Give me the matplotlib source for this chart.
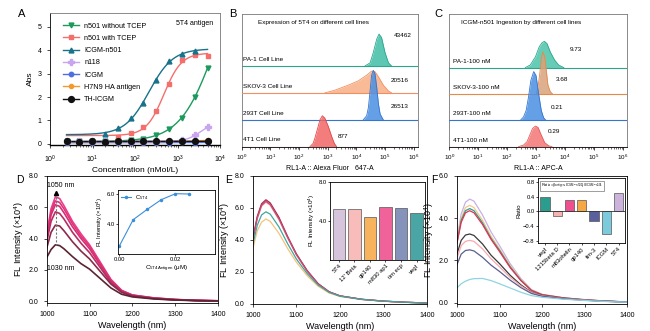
import numpy as np
import matplotlib
matplotlib.use('Agg')
import matplotlib.pyplot as plt
from matplotlib.lines import Line2D

plt.rcParams['font.family'] = ['Liberation Sans', 'DejaVu Sans']
plt.rcParams['axes.linewidth'] = 0.6
plt.rcParams['xtick.major.width'] = 0.5
plt.rcParams['ytick.major.width'] = 0.5
plt.rcParams['xtick.minor.width'] = 0.4
plt.rcParams['xtick.major.size'] = 2.5
plt.rcParams['ytick.major.size'] = 2.5
plt.rcParams['xtick.minor.size'] = 1.5
plt.rcParams['xtick.labelsize'] = 5
plt.rcParams['ytick.labelsize'] = 5
plt.rcParams['mathtext.default'] = 'regular'

# ---------------- A: ELISA binding ----------------
conc = [2.44, 4.88, 9.77, 19.5, 39.1, 78.1, 156, 313, 625, 1250, 2500, 5000]
abs_without_tcep = [0.1, 0.1, 0.1, 0.11, 0.12, 0.15, 0.22, 0.38, 0.65, 1.1, 2.0, 3.25]
abs_with_tcep = [0.3, 0.45, 0.72, 1.42, 2.55, 3.6, 3.82, 3.75]       # conc[4:]
abs_icgm_n501 = [0.42, 0.68, 1.1, 1.75, 2.75, 3.55, 3.85, 3.95]      # conc[3:11]
abs_n118 = [0.1, 0.1, 0.1, 0.1, 0.1, 0.1, 0.1, 0.12, 0.14, 0.15, 0.36, 0.7]
abs_icgm = [0.05, 0.05, 0.04, 0.05, 0.05, 0.04, 0.05, 0.05, 0.05, 0.06, 0.05, 0.06]
abs_h7n9 = [0.08, 0.09, 0.08, 0.09, 0.08, 0.09, 0.08, 0.09, 0.1, 0.1, 0.12, 0.15]
abs_th_icgm = [0.1, 0.09, 0.1, 0.09, 0.11, 0.13, 0.1, 0.1, 0.11, 0.1, 0.1, 0.1]

# ---------------- B / C: flow cytometry (log10 x, normalised height) ----------------
b_rows = ['4T1 Cell Line', '293T Cell Line', 'SKOV-3 Cell Line', 'PA-1 Cell Line']
b_values = ['877', '26513', '20516', '43462']
b_x = [[2.38, 2.49, 2.55, 2.65, 2.73, 2.81, 2.90, 3.02, 3.14, 3.23, 3.31],
       [4.24, 4.36, 4.42, 4.48, 4.53, 4.59, 4.65, 4.71, 4.77, 4.83, 4.94],
       [2.90, 3.25, 3.72, 4.07, 4.36, 4.53, 4.65, 4.77, 4.94, 5.12, 5.23],
       [4.30, 4.48, 4.59, 4.71, 4.79, 4.88, 5.00, 5.12, 5.23]]
b_h = [[0, 0.12, 0.31, 0.69, 1.0, 1.15, 1.06, 0.75, 0.37, 0.12, 0],
       [0, 0.15, 0.46, 1.09, 1.65, 1.84, 1.71, 1.21, 0.59, 0.21, 0],
       [0, 0.1, 0.29, 0.45, 0.66, 0.81, 0.79, 0.6, 0.29, 0.07, 0],
       [0, 0.12, 0.5, 1.0, 1.19, 1.06, 0.5, 0.12, 0]]

c_rows = ['4T1-100 nM', '293T-100 nM', 'SKOV-3-100 nM', 'PA-1-100 nM']
c_values = ['0.29', '0.21', '3.68', '9.73']
c_x = [[2.40, 2.57, 2.69, 2.80, 2.88, 2.98, 3.07, 3.18, 3.30, 3.44, 3.55],
       [2.46, 2.57, 2.66, 2.74, 2.82, 2.92, 3.00, 3.09, 3.18, 3.26, 3.34],
       [3.01, 3.07, 3.13, 3.18, 3.24, 3.30, 3.36, 3.41, 3.49, 3.57],
       [2.63, 2.80, 2.98, 3.11, 3.21, 3.29, 3.38, 3.49, 3.64, 3.78, 3.96]]
c_h = [[0, 0.06, 0.19, 0.48, 0.69, 0.78, 0.73, 0.44, 0.15, 0.03, 0],
       [0, 0.13, 0.38, 0.88, 1.51, 1.85, 1.7, 1.0, 0.38, 0.1, 0],
       [0, 0.28, 0.78, 1.35, 1.6, 1.41, 0.84, 0.34, 0.09, 0],
       [0, 0.1, 0.41, 0.79, 0.95, 1.0, 0.91, 0.6, 0.29, 0.1, 0]]

# ---------------- D / E / F: NIR-II spectra ----------------
wl = [1000, 1010, 1020, 1030, 1040, 1060, 1080, 1100, 1125, 1150, 1175, 1200, 1250, 1300, 1350, 1400]
d_spectra = [
    [4.3, 5.9, 6.65, 6.55, 6.1, 5.1, 4.3, 3.6, 2.5, 1.4, 0.7, 0.4, 0.22, 0.12, 0.06, 0.03],
    [4.2, 5.7, 6.4, 6.3, 5.9, 4.95, 4.15, 3.5, 2.4, 1.35, 0.68, 0.4, 0.21, 0.11, 0.06, 0.03],
    [4.0, 5.5, 6.15, 6.05, 5.65, 4.75, 4.0, 3.35, 2.3, 1.3, 0.66, 0.38, 0.2, 0.11, 0.05, 0.03],
    [3.8, 5.1, 5.7, 5.6, 5.25, 4.4, 3.7, 3.1, 2.15, 1.2, 0.62, 0.36, 0.19, 0.1, 0.05, 0.03],
    [3.4, 4.4, 4.85, 4.8, 4.5, 3.8, 3.2, 2.7, 1.9, 1.1, 0.57, 0.33, 0.17, 0.09, 0.05, 0.02],
    [2.8, 3.3, 3.6, 3.55, 3.35, 2.85, 2.4, 2.05, 1.45, 0.85, 0.45, 0.28, 0.15, 0.08, 0.04, 0.02]]
d_colors = ['#ea3f8a', '#e0327c', '#d42f72', '#b72d63', '#8a2b4a', '#5b2533']
d_inset_conc = [0.0, 0.005, 0.01, 0.015, 0.02, 0.025]
d_inset_int = [2.5, 4.3, 5.0, 5.65, 6.05, 6.03]

e_names = ['5T4', "12' Beta", 'gp140', 'm830 ap1', 'tim ecp', 'vegf']
e_bars = [5.25, 5.19, 4.44, 5.39, 5.29, 4.78]
e_colors = ['#d6c3dc', '#f8bcba', '#f7b35e', '#f0639a', '#8592ba', '#4aa5a5']
e_spectra = [
    [4.0, 5.4, 6.2, 6.45, 6.25, 5.35, 4.15, 3.1, 2.05, 1.25, 0.75, 0.5, 0.28, 0.17, 0.1, 0.05],
    [3.95, 5.3, 6.1, 6.35, 6.15, 5.25, 4.1, 3.05, 2.0, 1.22, 0.73, 0.49, 0.28, 0.17, 0.1, 0.05],
    [3.45, 4.55, 5.1, 5.3, 5.15, 4.4, 3.45, 2.6, 1.75, 1.1, 0.68, 0.46, 0.27, 0.16, 0.09, 0.05],
    [4.05, 5.45, 6.25, 6.5, 6.3, 5.4, 4.2, 3.12, 2.07, 1.26, 0.76, 0.5, 0.29, 0.17, 0.1, 0.05],
    [4.0, 5.35, 6.15, 6.4, 6.2, 5.3, 4.15, 3.08, 2.04, 1.24, 0.74, 0.5, 0.28, 0.17, 0.1, 0.05],
    [3.7, 4.9, 5.55, 5.75, 5.6, 4.8, 3.75, 2.8, 1.88, 1.17, 0.72, 0.48, 0.28, 0.17, 0.1, 0.05]]
e_line_colors = ['#cdb6dd', '#f5a3a8', '#f6c27a', '#b3244f', '#c04f72', '#3fa6a0']

f_names = ['vegf', '1215beta D', 'm83ohelin', 'gp140', 'tim-3', 'ICGM', '5T4']
f_ratio = [0.38, -0.12, 0.3, 0.32, -0.27, -0.62, 0.5]
f_colors = ['#2a9d8f', '#f6b3b0', '#ef4f8f', '#f7a845', '#5a5f9e', '#7ccbdc', '#cbb3dc']
f_spectra = [
    [3.0, 4.2, 4.75, 4.9, 4.8, 4.15, 3.35, 2.7, 1.85, 1.15, 0.62, 0.4, 0.24, 0.15, 0.08, 0.04],
    [2.9, 4.0, 4.5, 4.6, 4.5, 3.9, 3.15, 2.55, 1.75, 1.1, 0.6, 0.39, 0.24, 0.15, 0.08, 0.04],
    [2.85, 3.9, 4.35, 4.45, 4.35, 3.78, 3.05, 2.48, 1.7, 1.07, 0.59, 0.38, 0.23, 0.14, 0.08, 0.04],
    [2.8, 3.8, 4.25, 4.35, 4.25, 3.7, 3.0, 2.42, 1.66, 1.05, 0.58, 0.38, 0.23, 0.14, 0.08, 0.04],
    [2.3, 2.95, 3.2, 3.25, 3.18, 2.78, 2.25, 1.85, 1.3, 0.85, 0.5, 0.34, 0.21, 0.13, 0.07, 0.04],
    [2.1, 2.7, 2.9, 2.95, 2.9, 2.55, 2.08, 1.7, 1.2, 0.8, 0.48, 0.33, 0.2, 0.13, 0.07, 0.04],
    [1.8, 2.3, 2.47, 2.5, 2.45, 2.15, 1.78, 1.48, 1.07, 0.72, 0.44, 0.31, 0.19, 0.12, 0.07, 0.04],
    [0.7, 0.9, 1.02, 1.1, 1.14, 1.15, 1.05, 0.9, 0.7, 0.5, 0.34, 0.26, 0.17, 0.11, 0.06, 0.03]]
f_line_colors = ['#c9b0e6', '#f4c98a', '#2a9d8f', '#e8304f', '#3a3a3a', '#f6aab0', '#5a5f8e', '#8fd3e3']


def fit_4pl(x, y):
    # crude grid search for a 4-parameter logistic, bottom/top by least squares
    lx = np.log10(np.asarray(x))
    y = np.asarray(y)
    cs = np.linspace(0, 4.5, 181)[:, None, None]
    hs = np.linspace(0.5, 3.0, 51)[None, :, None]
    s = 1.0 / (1.0 + 10 ** ((cs - lx) * hs))
    sm = s.mean(-1, keepdims=True)
    ym = y.mean()
    slope = ((s - sm) * (y - ym)).sum(-1, keepdims=True) / (((s - sm) ** 2).sum(-1, keepdims=True) + 1e-9)
    icpt = ym - slope * sm
    sse = ((icpt + slope * s - y) ** 2).sum(-1)
    i, j = np.unravel_index(np.argmin(sse), sse.shape)
    return cs[i, 0, 0], hs[0, j, 0], icpt[i, j, 0], slope[i, j, 0]


fig = plt.figure(figsize=(6.5, 3.31), dpi=100)

# ---------- A ----------
axA = fig.add_axes([0.077, 0.562, 0.262, 0.399])
series = [
    ('n501 without TCEP', conc, abs_without_tcep, '#1b9a5c', 'v', 3.5),
    ('n501 with TCEP', conc[4:], abs_with_tcep, '#f46f6c', 's', 3.5),
    ('ICGM-n501', conc[3:11], abs_icgm_n501, '#17728a', '^', 3.5),
    ('n118', conc, abs_n118, '#c8a5ef', 'P', 3.8),
    ('ICGM', conc, abs_icgm, '#4f6fe0', 'o', 3.2),
    ('H7N9 HA antigen', conc, abs_h7n9, '#f39a2e', 'o', 3.0),
    ('TH-ICGM', conc, abs_th_icgm, '#111111', 'o', 4.2),
]
xx = np.logspace(np.log10(conc[0]), np.log10(conc[-1]), 200)
handles = []
for name, x, y, col, mk, ms in series:
    c, h, b, t = fit_4pl(x, y)
    axA.plot(xx, b + t / (1 + 10 ** ((c - np.log10(xx)) * h)), color=col, lw=1.0, zorder=2)
    axA.plot(x, y, ls='none', marker=mk, color=col, ms=ms, zorder=3)
    handles.append(Line2D([], [], color=col, marker=mk, ms=ms, lw=1.0))
axA.set_xscale('log')
axA.set_xlim(1, 1e4)
axA.set_ylim(-0.05, 5.6)
axA.set_yticks([0, 1, 2, 3, 4, 5])
axA.set_xlabel('Concentration (nMol/L)', fontsize=6, labelpad=2)
axA.set_ylabel('Abs', fontsize=6, labelpad=3)
axA.spines['bottom'].set_linewidth(1.0)
for sp in ['top', 'right']:
    axA.spines[sp].set_color('#777777')
axA.legend(handles, [s[0] for s in series], loc='upper left', frameon=False, fontsize=5.2,
           handlelength=2.2, labelspacing=0.72, borderaxespad=0.4, bbox_to_anchor=(0.04, 0.97))
axA.text(0.96, 0.95, '5T4 antigen', transform=axA.transAxes, ha='right', va='top', fontsize=5)
fig.text(0.028, 0.948, 'A', fontsize=8)


def flow(rect, rows, values, xs, hs, colors, edges, top, title, title_x, xlabel, label_x, val_pos):
    ax = fig.add_axes(rect)
    for k in range(3, -1, -1):
        base = k
        ax.fill_between(10 ** np.array(xs[k]), base, base + np.array(hs[k]), color=colors[k], alpha=0.85,
                        lw=0, zorder=2 + (3 - k))
        ax.plot(10 ** np.array(xs[k]), base + np.array(hs[k]), color=edges[k], lw=0.6, zorder=2 + (3 - k))
        ax.axhline(base, color=edges[k], lw=0.8, zorder=2 + (3 - k))
        ax.text(10 ** label_x, base + 0.25, rows[k], fontsize=4.6, va='center', ha='left', zorder=10)
        ax.text(10 ** val_pos[k][0], val_pos[k][1], values[k], fontsize=4.6, ha='center', va='center', zorder=10)
    ax.set_xscale('log')
    ax.set_xlim(1, 10 ** 6.15)
    ax.set_ylim(0, top)
    ax.set_yticks([])
    ax.set_xticks([10 ** i for i in range(7)])
    ax.tick_params(axis='x', labelsize=4.5, pad=2)
    for sp in ['top', 'right', 'left']:
        ax.spines[sp].set_color('#777777')
    ax.text(10 ** title_x, top - 0.32, title, fontsize=4.6, va='center')
    ax.set_xlabel(xlabel, fontsize=5, labelpad=2)
    return ax


flow([0.372, 0.557, 0.271, 0.401], b_rows, b_values, b_x, b_h,
     ['#f26565', '#4a8fe3', '#f7ae85', '#3fbfa6'], ['#e04a4a', '#3575d0', '#f09060', '#2aa58e'],
     4.94, 'Expression of 5T4 on different cell lines', 0.56, 'RL1-A :: Alexa Fluor   647-A', 0.05,
     [(3.55, 0.36), (5.52, 1.49), (5.52, 2.46), (5.63, 4.15)])
fig.text(0.352, 0.948, 'B', fontsize=8)

flow([0.691, 0.557, 0.274, 0.401], c_rows, c_values, c_x, c_h,
     ['#f47676', '#4a8fe3', '#d9a27c', '#4cc3a8'], ['#e65c5c', '#3575d0', '#e58a48', '#2aa58e'],
     5.04, 'ICGM-n501 Ingestion by different cell lines', 0.42, 'RL1-A :: APC-A', 0.14,
     [(3.63, 0.57), (3.74, 1.47), (3.89, 2.54), (4.39, 3.68)])
fig.text(0.668, 0.948, 'C', fontsize=8)

# ---------- D ----------
axD = fig.add_axes([0.072, 0.085, 0.263, 0.384])
for spec, col in zip(d_spectra, d_colors):
    axD.plot(wl, spec, color=col, lw=1.2)
axD.plot([1022, 1022], [d_spectra[0][2], d_spectra[-1][2]], ls=(0, (2, 1.5)), color='#777777', lw=0.8)
axD.plot([1022], [6.9], marker='^', color='black', ms=3)
axD.text(1000, 7.35, '1050 nm', fontsize=5, va='center')
axD.text(1000, 2.1, '1030 nm', fontsize=5, va='center')
axD.set_xlim(1000, 1400)
axD.set_ylim(-0.1, 8.0)
axD.set_xticks([1000, 1100, 1200, 1300, 1400])
axD.set_yticks([0, 2, 4, 6, 8])
axD.set_yticklabels(['0.0', '2.0', '4.0', '6.0', '8.0'])
axD.set_xlabel('Wavelength (nm)', fontsize=6.5, labelpad=2)
axD.set_ylabel('FL Intensity (×10$^4$)', fontsize=6.5, labelpad=2)
fig.text(0.025, 0.447, 'D', fontsize=7.5)

axDi = fig.add_axes([0.1815, 0.233, 0.149, 0.193])
axDi.plot(d_inset_conc, d_inset_int, color='#3b8fd9', marker='o', ms=1.5, lw=0.8)
axDi.set_xlim(-0.0004, 0.034)
axDi.set_ylim(2.0, 6.3)
axDi.set_xticks([0.0, 0.02])
axDi.set_xticklabels(['0.00', '0.02'])
axDi.set_yticks([4.0, 6.0])
axDi.set_yticklabels(['4.0', '6.0'])
axDi.tick_params(labelsize=4.2, pad=1, length=1.5)
axDi.set_xlabel('C$_{5T4 Antigen}$ (μM)', fontsize=4.5, labelpad=1)
axDi.set_ylabel('FL Intensity (×10$^4$)', fontsize=4.2, labelpad=1)
axDi.legend(['C$_{5T4}$'], loc='upper left', frameon=False, fontsize=4.2, handlelength=1.6, borderaxespad=0.2)

# ---------- E ----------
axE = fig.add_axes([0.389, 0.082, 0.268, 0.387])
for spec, col in zip(e_spectra, e_line_colors):
    axE.plot(wl, spec, color=col, lw=0.9)
axE.set_xlim(1000, 1400)
axE.set_ylim(0, 8.0)
axE.set_xticks([1000, 1100, 1200, 1300, 1400])
axE.set_yticks([0, 2, 4, 6, 8])
axE.set_yticklabels(['0.0', '2.0', '4.0', '6.0', '8.0'])
axE.set_xlabel('Wavelength (nm)', fontsize=6.5, labelpad=2)
axE.set_ylabel('FL Intensity (×10$^4$)', fontsize=6.5, labelpad=2)
fig.text(0.347, 0.447, 'E', fontsize=7.5)

axEi = fig.add_axes([0.508, 0.2145, 0.146, 0.236])
axEi.bar(range(len(e_names)), e_bars, color=e_colors, edgecolor='#555555', lw=0.5, width=0.8)
axEi.set_ylim(0, 8.0)
axEi.set_xlim(-0.55, len(e_names) - 0.45)
axEi.set_yticks([4.0, 8.0])
axEi.set_yticklabels(['4.0', '8.0'])
axEi.set_xticks(range(len(e_names)))
axEi.set_xticklabels(e_names, rotation=45, ha='right', rotation_mode='anchor')
axEi.tick_params(labelsize=4.2, pad=1, length=1.5)
axEi.set_ylabel('FL Intensity (×10$^4$)', fontsize=4.5, labelpad=1)

# ---------- F ----------
axF = fig.add_axes([0.703, 0.082, 0.262, 0.387])
for spec, col in zip(f_spectra, f_line_colors):
    axF.plot(wl, spec, color=col, lw=0.9)
axF.set_xlim(1000, 1400)
axF.set_ylim(-0.05, 6.0)
axF.set_xticks([1000, 1100, 1200, 1300, 1400])
axF.set_yticks([0, 2, 4, 6])
axF.set_yticklabels(['0.0', '2.0', '4.0', '6.0'])
axF.set_xlabel('Wavelength (nm)', fontsize=6.5, labelpad=2)
axF.set_ylabel('FL Intensity (×10$^4$)', fontsize=6.5, labelpad=2)
fig.text(0.664, 0.447, 'F', fontsize=7.5)

axFi = fig.add_axes([0.828, 0.266, 0.134, 0.196])
axFi.bar(range(len(f_names)), f_ratio, color=f_colors, edgecolor='#555555', lw=0.5, width=0.75)
axFi.axhline(0, color='#333333', lw=0.6)
axFi.set_ylim(-0.85, 0.9)
axFi.set_xlim(-0.55, len(f_names) - 0.45)
axFi.set_yticks([-0.8, -0.4, 0.0, 0.4, 0.8])
axFi.set_xticks(range(len(f_names)))
axFi.set_xticklabels(f_names, rotation=45, ha='right', rotation_mode='anchor')
axFi.tick_params(labelsize=4.2, pad=1, length=1.5)
axFi.set_ylabel('Ratio', fontsize=4.5, labelpad=1)
axFi.text(0.03, 0.95, 'Ratio=(I$_{antigen}$-I$_{ICGM-n501}$)/I$_{ICGM-n501}$', transform=axFi.transAxes,
          fontsize=2.8, va='top', bbox=dict(boxstyle='square,pad=0.2', fc='white', ec='#555555', lw=0.4))

fig.savefig('out.png', dpi=100)
